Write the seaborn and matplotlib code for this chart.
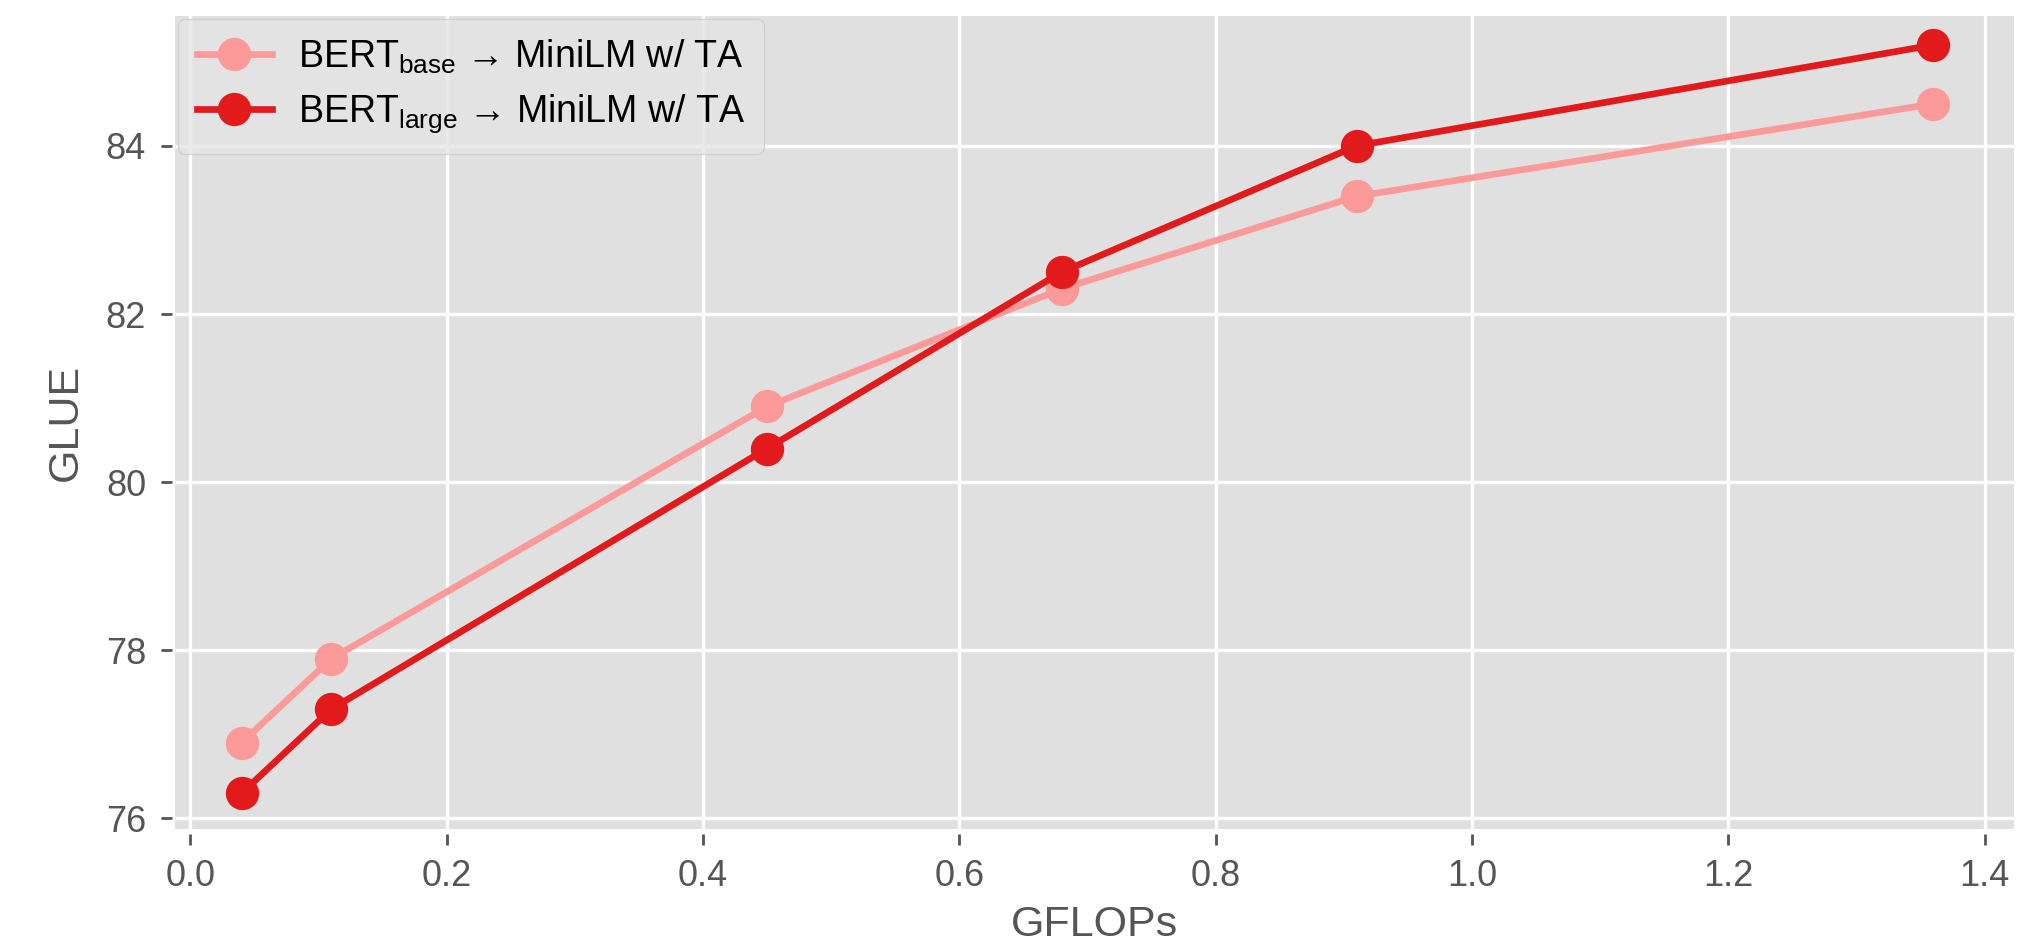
import pandas as pd
import matplotlib
matplotlib.use("Agg")
import matplotlib.pyplot as plt
import seaborn as sns

# data
gflops = [0.04, 0.11, 0.45, 0.68, 0.91, 1.36]
glue_base = [76.9, 77.9, 80.9, 82.3, 83.4, 84.5]
glue_large = [76.3, 77.3, 80.4, 82.5, 84.0, 85.2]
label_base = r"BERT$_{\mathrm{base}}$ → MiniLM w/ TA"
label_large = r"BERT$_{\mathrm{large}}$ → MiniLM w/ TA"
xticks = [0.0, 0.2, 0.4, 0.6, 0.8, 1.0, 1.2, 1.4]
yticks = [76, 78, 80, 82, 84]

df = pd.concat([
    pd.DataFrame({"GFLOPs": gflops, "GLUE": glue_base, "model": label_base}),
    pd.DataFrame({"GFLOPs": gflops, "GLUE": glue_large, "model": label_large}),
])

plt.style.use("ggplot")
plt.rcParams["font.family"] = ["Liberation Sans", "DejaVu Sans"]
plt.rcParams["mathtext.fontset"] = "custom"
plt.rcParams["mathtext.rm"] = "Liberation Sans"

fig, ax = plt.subplots(figsize=(10.135, 4.74), dpi=200)
fig.subplots_adjust(left=0.0863, right=0.9936, top=0.9836, bottom=0.126)
ax.set_facecolor("#e0e0e0")

palette = {label_base: "#fb9a99", label_large: "#e31a1c"}
sns.lineplot(data=df, x="GFLOPs", y="GLUE", hue="model", palette=palette,
             marker="o", markersize=12, markeredgewidth=0, linewidth=2.4, ax=ax)

ax.set_xlim(-0.012, 1.423)
ax.set_ylim(75.88, 85.55)
ax.set_xticks(xticks)
ax.set_yticks(yticks)
ax.grid(color="white", linewidth=1.2)
for s in ax.spines.values():
    s.set_visible(False)
ax.spines["bottom"].set_position(("outward", 1.8))
ax.spines["left"].set_position(("outward", 1.1))
ax.tick_params(labelsize=13, colors="#555555", length=3.8, width=1, pad=5.5)
ax.set_xlabel("GFLOPs", fontsize=15.5, color="#555555", labelpad=4)
ax.set_ylabel("GLUE", fontsize=15.5, color="#555555", labelpad=7)

leg = ax.legend(loc="upper left", fontsize=13.5, handlelength=2.0,
                handletextpad=0.7, borderaxespad=0.08, frameon=True,
                labelspacing=0.45, borderpad=0.5)
leg.get_frame().set_facecolor("#e5e5e5")
leg.get_frame().set_edgecolor("#cccccc")
leg.get_frame().set_alpha(0.8)
for t in leg.get_texts():
    t.set_color("black")

fig.savefig("out.png", dpi=200)
